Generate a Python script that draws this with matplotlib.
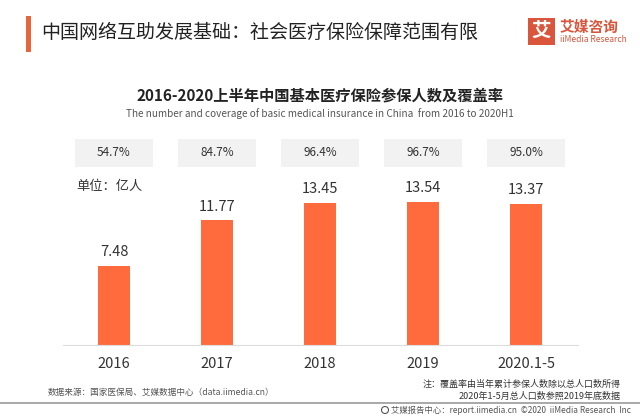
import numpy as np
import matplotlib.pyplot as plt
from matplotlib.transforms import blended_transform_factory
from matplotlib.patches import Rectangle, Ellipse
from matplotlib.lines import Line2D

plt.rcParams['font.family'] = ['Noto Sans CJK SC', 'DejaVu Sans']

years = ["2016", "2017", "2018", "2019", "2020.1-5"]
insured = [7.48, 11.77, 13.45, 13.54, 13.37]  # 亿人
coverage = ["54.7%", "84.7%", "96.4%", "96.7%", "95.0%"]

bar_color = "#ff6b3d"
brand = "#d9553b"
dark = "#333333"

fig = plt.figure(figsize=(6.4, 4.16), dpi=100)
ax = fig.add_axes([62.5/640, 71/416, 515/640, 155/416])

x = np.arange(len(years))
ax.bar(x, insured, width=0.31, color=bar_color)
for xi, v in zip(x, insured):
    ax.annotate(f"{v:.2f}", (xi, v), xytext=(0, 7), textcoords="offset points",
                ha="center", va="baseline", fontsize=10.5, color=dark)

ax.set_xlim(-0.5, 4.5)
ax.set_ylim(0, 14.65)
ax.set_yticks([])
ax.set_xticks(x)
ax.set_xticklabels(years, fontsize=10.5, color=dark)
ax.tick_params(axis="x", length=0, pad=9)
for s in ["top", "right", "left"]:
    ax.spines[s].set_visible(False)
ax.spines["bottom"].set_color("#dddddd")
ax.spines["bottom"].set_linewidth(0.8)

# coverage boxes above the bars
tr = blended_transform_factory(ax.transData, fig.transFigure)
for xi, c in zip(x, coverage):
    ax.add_patch(Rectangle((xi - 0.375, 0.599), 0.75, 0.067, transform=tr,
                           facecolor="#f2f2f2", edgecolor="none", clip_on=False))
    ax.text(xi, 0.6327, c, transform=tr, ha="center", va="center",
            fontsize=8.5, color=dark)

# header
fig.add_artist(Rectangle((26/640, (416-51.7)/416), 4.5/640, 35.7/416,
                         transform=fig.transFigure, facecolor="#e8653c", edgecolor="none"))
fig.text(41.5/640, 0.921, "中国网络互助发展基础：社会医疗保险保障范围有限",
         ha="left", va="center", fontsize=13.7, color="#222222")

# logo
fig.add_artist(Rectangle((527.7/640, (416-45)/416), 27.3/640, 26.7/416,
                         transform=fig.transFigure, facecolor=brand, edgecolor="none"))
fig.text(541.3/640, (416-31.7)/416, "艾", ha="center", va="center",
         fontsize=14, color="white", fontweight="bold")
fig.text(560/640, (416-26.7)/416, "艾媒咨询", ha="left", va="center",
         fontsize=10.6, color=brand, fontweight="bold")
fig.text(560/640, (416-39.5)/416, "iiMedia Research", ha="left", va="center",
         fontsize=6.1, color=brand)

# chart titles
fig.text(0.5, 0.7716, "2016-2020上半年中国基本医疗保险参保人数及覆盖率",
         ha="center", va="center", fontsize=11, fontweight="bold", color="#222222")
fig.text(0.5, 0.726, "The number and coverage of basic medical insurance in China  from 2016 to 2020H1",
         ha="center", va="center", fontsize=7.2, color="#555555")
fig.text(76/640, 0.5529, "单位：亿人", ha="left", va="center", fontsize=9.5, color=dark)

# footnotes
fig.text(48/640, 0.0555, "数据来源：国家医保局、艾媒数据中心（data.iimedia.cn）",
         ha="left", va="center", fontsize=6.2, color="#555555")
fig.text(621/640, 0.077, "注：覆盖率由当年累计参保人数除以总人口数所得",
         ha="right", va="center", fontsize=6.5, color=dark)
fig.text(621/640, 0.048, "2020年1-5月总人口数参照2019年底数据",
         ha="right", va="center", fontsize=6.5, color=dark)
fig.add_artist(Line2D([0, 1], [0.031, 0.031], transform=fig.transFigure,
                      color="#999999", linewidth=1.2))
fig.add_artist(Ellipse((385/640, 0.0144), 7/640, 7/416, transform=fig.transFigure,
                       facecolor="none", edgecolor="#555555", linewidth=0.8))
fig.text(391/640, 0.0144, "艾媒报告中心：report.iimedia.cn  ©2020  iiMedia Research  Inc",
         ha="left", va="center", fontsize=6, color="#555555")

fig.savefig("out.png", dpi=100)
